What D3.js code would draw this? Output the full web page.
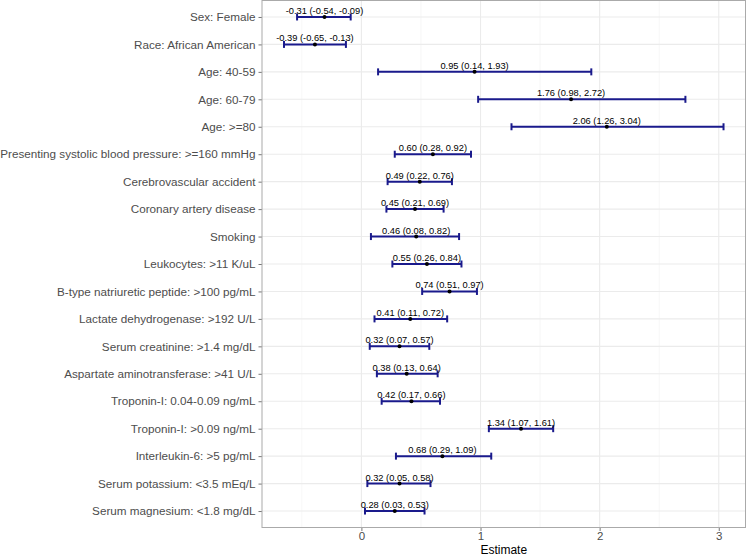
<!DOCTYPE html>
<html><head><meta charset="utf-8">
<script src="https://cdn.jsdelivr.net/npm/d3@7"></script>
<style>body{margin:0;background:#fff}svg{display:block;font-family:"Liberation Sans",Arial,sans-serif}</style>
</head><body><svg id="c" width="749" height="556"></svg>
<script>
const categories = ["Sex: Female","Race: African American","Age: 40-59","Age: 60-79","Age: >=80","Presenting systolic blood pressure: >=160 mmHg","Cerebrovascular accident","Coronary artery disease","Smoking","Leukocytes: >11 K/uL","B-type natriuretic peptide: >100 pg/mL","Lactate dehydrogenase: >192 U/L","Serum creatinine: >1.4 mg/dL","Aspartate aminotransferase: >41 U/L","Troponin-I: 0.04-0.09 ng/mL","Troponin-I: >0.09 ng/mL","Interleukin-6: >5 pg/mL","Serum potassium: <3.5 mEq/L","Serum magnesium: <1.8 mg/dL"];
const estimates = [-0.31,-0.39,0.95,1.76,2.06,0.60,0.49,0.45,0.46,0.55,0.74,0.41,0.32,0.38,0.42,1.34,0.68,0.32,0.28];
const lower = [-0.54,-0.65,0.14,0.98,1.26,0.28,0.22,0.21,0.08,0.26,0.51,0.11,0.07,0.13,0.17,1.07,0.29,0.05,0.03];
const upper = [-0.09,-0.13,1.93,2.72,3.04,0.92,0.76,0.69,0.82,0.84,0.97,0.72,0.57,0.64,0.66,1.61,1.09,0.58,0.53];
const xTicks = [0,1,2,3];
const xMinor = [-0.5,0.5,1.5,2.5];

const data = categories.map((c,i)=>({c,e:estimates[i],l:lower[i],u:upper[i]}));
const svg = d3.select("#c");
const L=262, R=745.5, T=0.5, B=527.5;
const lo=d3.min(lower), hi=d3.max(upper), pad=(hi-lo)*0.05;
const x = d3.scaleLinear().domain([lo-pad,hi+pad]).range([L,R]);
const y = d3.scalePoint().domain(categories).range([T,B]).padding(0.6);

const g = svg.append("g");
g.append("rect").attr("x",L).attr("y",T).attr("width",R-L).attr("height",B-T).attr("fill","#fff");
g.selectAll(".mn").data(xMinor).join("line").attr("x1",d=>x(d)).attr("x2",d=>x(d)).attr("y1",T).attr("y2",B).attr("stroke","#f2f2f2").attr("stroke-width",0.6);
g.selectAll(".mjx").data(xTicks).join("line").attr("x1",d=>x(d)).attr("x2",d=>x(d)).attr("y1",T).attr("y2",B).attr("stroke","#ebebeb").attr("stroke-width",1.1);
g.selectAll(".mjy").data(categories).join("line").attr("x1",L).attr("x2",R).attr("y1",d=>y(d)).attr("y2",d=>y(d)).attr("stroke","#ebebeb").attr("stroke-width",1.1);

const xa = svg.append("g").attr("transform",`translate(0,${B})`).call(d3.axisBottom(x).tickValues(xTicks).tickSize(3.5).tickPadding(3).tickFormat(d=>String(d)));
const ya = svg.append("g").attr("transform",`translate(${L},0)`).call(d3.axisLeft(y).tickSize(3.5).tickPadding(3));
[xa,ya].forEach(a=>{a.attr("font-family",null).attr("font-size",null);a.select(".domain").remove();a.selectAll(".tick line").attr("stroke","#777").attr("stroke-width",1);
  a.selectAll(".tick text").attr("fill","#4d4d4d").style("font-family","'Liberation Sans', Arial, sans-serif");});
ya.selectAll(".tick text").style("font-size","11.7px");
xa.selectAll(".tick text").style("font-size","11.5px").attr("y",null).attr("dy",null).attr("y",12.5);

const cap=3.5;
const eb = svg.append("g").attr("stroke","#1a1a8c").attr("stroke-width",2).attr("fill","none");
data.forEach(d=>{
  const yy=y(d.c);
  eb.append("line").attr("x1",x(d.l)).attr("x2",x(d.u)).attr("y1",yy).attr("y2",yy);
  eb.append("line").attr("x1",x(d.l)).attr("x2",x(d.l)).attr("y1",yy-cap).attr("y2",yy+cap);
  eb.append("line").attr("x1",x(d.u)).attr("x2",x(d.u)).attr("y1",yy-cap).attr("y2",yy+cap);
});
svg.append("g").selectAll("circle").data(data).join("circle").attr("cx",d=>x(d.e)).attr("cy",d=>y(d.c)).attr("r",2).attr("fill","#000");
const f=v=>v.toFixed(2);
svg.append("g").selectAll("text").data(data).join("text").attr("x",d=>x(d.e)).attr("y",d=>y(d.c)-3)
  .attr("text-anchor","middle").style("font-size","9.3px").attr("fill","#000")
  .text(d=>`${f(d.e)} (${f(d.l)}, ${f(d.u)})`);

svg.append("rect").attr("x",L).attr("y",T).attr("width",R-L).attr("height",B-T).attr("fill","none").attr("stroke","#aaa").attr("stroke-width",1);
svg.append("text").attr("x",(L+R)/2).attr("y",553.5).attr("text-anchor","middle").style("font-size","12px").attr("fill","#000").text("Estimate");
</script></body></html>
